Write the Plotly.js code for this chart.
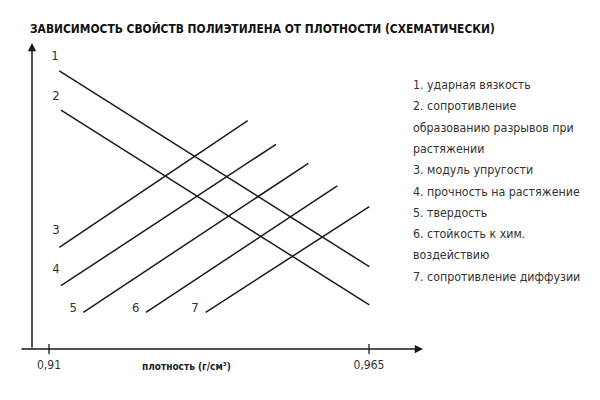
<!DOCTYPE html>
<html>
<head>
<meta charset="utf-8">
<script src="https://cdn.plot.ly/plotly-3.0.1.min.js"></script>
<style>html,body{margin:0;padding:0;background:#fff;}#chart{width:600px;height:400px;}</style>
</head>
<body>
<div id="chart"></div>
<script>
// Data (schematic): density on x, relative property level on y
const lineIds = ['1', '2', '3', '4', '5', '6', '7'];
const xStart = [0.91177, 0.91206, 0.91177, 0.91206, 0.91590, 0.92667, 0.93693];
const xEnd   = [0.96505, 0.96505, 0.94415, 0.94902, 0.95457, 0.95955, 0.96505];
const yStart = [9.09, 7.81, 3.32, 2.07, 1.20, 1.20, 1.20];
const yEnd   = [2.69, 1.44, 7.46, 6.69, 6.07, 5.33, 4.65];
const labelX = [0.91103, 0.91120, 0.91120, 0.91120, 0.91418, 0.92490, 0.93509];
const labelY = [9.55, 8.245, 3.856, 2.58, 1.307, 1.307, 1.307];
const tickVals = [0.91, 0.965];
const tickText = ['0,91', '0,965'];
const legendLines = [
  '1. ударная вязкость',
  '2. сопротивление',
  'образованию разрывов при',
  'растяжении',
  '3. модуль упругости',
  '4. прочность на растяжение',
  '5. твердость',
  '6. стойкость к хим.',
  'воздействию',
  '7. сопротивление диффузии'
];
const titleText = 'ЗАВИСИМОСТЬ СВОЙСТВ ПОЛИЭТИЛЕНА ОТ ПЛОТНОСТИ (СХЕМАТИЧЕСКИ)';
const xTitle = 'плотность (г/см³)';

const FONT = '"DejaVu Sans Condensed", "DejaVu Sans", sans-serif';
const xMin = 0.905016, xMax = 0.97428, yMin = -0.3595, yMax = 10;
const yAxisX = 0.907078;

const traces = lineIds.map((id, i) => ({
  type: 'scatter', mode: 'lines', name: id,
  x: [xStart[i], xEnd[i]], y: [yStart[i], yEnd[i]],
  line: {color: '#1a1a1a', width: 1.5},
  hoverinfo: 'skip', showlegend: false
}));
traces.push({
  type: 'scatter', mode: 'text', x: labelX, y: labelY, text: lineIds,
  textfont: {family: FONT, size: 13, color: '#333', stretch: 'condensed'},
  textposition: 'middle center', showlegend: false, hoverinfo: 'skip'
});

const shapes = tickVals.map(v => ({
  type: 'line', xref: 'x', yref: 'y', x0: v, x1: v, y0: -0.16, y1: 0.16,
  line: {color: '#1a1a1a', width: 1.3}
}));

const plotTop = 43, plotBottom = 360;
const annotations = [
  {xref: 'x', yref: 'y', axref: 'x', ayref: 'y', x: xMax, y: 0, ax: xMin, ay: 0,
   text: '', showarrow: true, arrowhead: 2, arrowsize: 1.1, arrowwidth: 1.5, arrowcolor: '#1a1a1a', standoff: 0},
  {xref: 'x', yref: 'y', axref: 'x', ayref: 'y', x: yAxisX, y: yMax, ax: yAxisX, ay: 0,
   text: '', showarrow: true, arrowhead: 2, arrowsize: 1.1, arrowwidth: 1.5, arrowcolor: '#1a1a1a', standoff: 0},
  {xref: 'paper', yref: 'paper', x: (186.5 - 20) / 403, y: (plotBottom - 366) / (plotBottom - plotTop),
   xanchor: 'center', yanchor: 'middle', showarrow: false, text: '<b>' + xTitle + '</b>',
   font: {family: FONT, size: 10, color: '#222', stretch: 'condensed'}}
];
legendLines.forEach((t, i) => {
  const py = 85 + i * 21.3;
  annotations.push({
    xref: 'paper', yref: 'paper', x: (411 - 20) / 403, y: (plotBottom - py) / (plotBottom - plotTop),
    xanchor: 'left', yanchor: 'middle', showarrow: false, text: t,
    font: {family: FONT, size: 12.3, color: '#333', stretch: 'condensed'}
  });
});

const layout = {
  width: 600, height: 400,
  margin: {l: 20, r: 177, t: plotTop, b: 400 - plotBottom},
  paper_bgcolor: '#fff', plot_bgcolor: '#fff',
  title: {text: '<b>' + titleText + '</b>', x: 30 / 600, xanchor: 'left', xref: 'container',
          y: 1 - 29 / 400, yanchor: 'middle', yref: 'container',
          font: {family: FONT, size: 11.9, color: '#111', stretch: 'condensed'}},
  xaxis: {range: [xMin, xMax], showgrid: false, zeroline: false, showline: false,
          tickvals: tickVals, ticktext: tickText, ticks: '', anchor: 'free', ticklabelstandoff: 7,
          position: 11 / 317, tickfont: {family: FONT, size: 12, color: '#333', stretch: 'condensed'}, fixedrange: true},
  yaxis: {range: [yMin, yMax], showgrid: false, zeroline: false, showline: false,
          showticklabels: false, ticks: '', fixedrange: true},
  shapes: shapes, annotations: annotations, showlegend: false
};

Plotly.newPlot('chart', traces, layout, {staticPlot: true, displayModeBar: false});
</script>
</body>
</html>
